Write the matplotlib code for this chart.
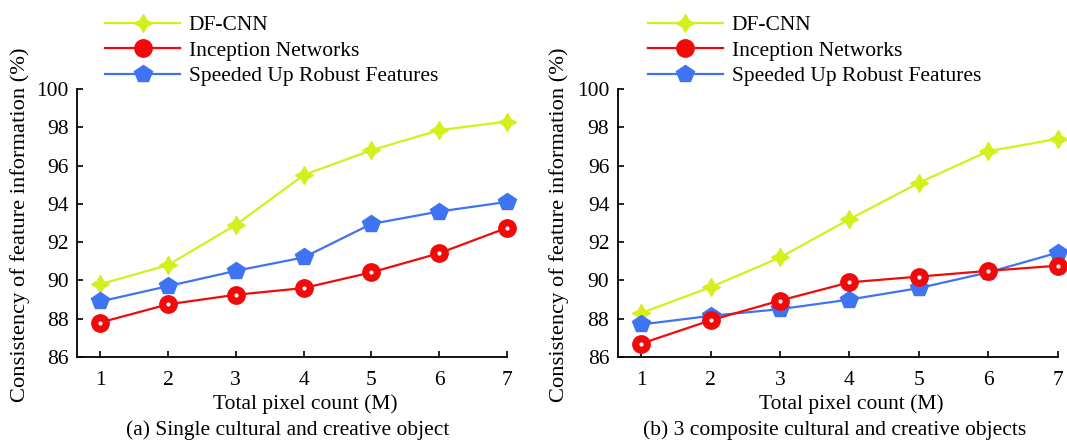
import matplotlib
matplotlib.use("Agg")
import matplotlib.pyplot as plt
from matplotlib.lines import Line2D

plt.rcParams['font.family'] = ['Liberation Serif', 'DejaVu Serif']
plt.rcParams['mathtext.fontset'] = 'stix'

x = [1, 2, 3, 4, 5, 6, 7]
series_names = ["DF-CNN", "Inception Networks", "Speeded Up Robust Features"]

# (a) Single cultural and creative object
a_dfcnn = [89.8, 90.8, 92.9, 95.5, 96.8, 97.85, 98.3]
a_incep = [87.8, 88.75, 89.25, 89.6, 90.42, 91.42, 92.75]
a_surf = [88.9, 89.7, 90.5, 91.2, 92.95, 93.6, 94.1]

# (b) 3 composite cultural and creative objects
b_dfcnn = [88.3, 89.65, 91.2, 93.2, 95.1, 96.75, 97.4]
b_incep = [86.7, 87.92, 88.95, 89.9, 90.2, 90.5, 90.77]
b_surf = [87.7, 88.15, 88.5, 89.0, 89.6, 90.42, 91.45]

captions = ["(a) Single cultural and creative object",
            "(b) 3 composite cultural and creative objects"]
yticks = [86, 88, 90, 92, 94, 96, 98, 100]
xlabel = "Total pixel count (M)"
ylabel = "Consistency of feature information (%)"

c_yel = "#d4ef1c"
c_red = "#f00a0a"
c_blue = "#3e73f2"

W, H = 1067, 441
fig = plt.figure(figsize=(W / 100, H / 100), dpi=100)
axes_pos = [[77 / W, 1 - 357 / H, (507 - 77) / W, (357 - 89) / H],
            [617.7 / W, 1 - 357 / H, (1057.7 - 617.7) / W, (357 - 89) / H]]
data = [(a_dfcnn, a_incep, a_surf), (b_dfcnn, b_incep, b_surf)]
fs = 15.5
cap_cx = [288, 835]
leg_anchor = [0.065, 0.068]

for i in range(2):
    ax = fig.add_axes(axes_pos[i])
    d, inc, s = data[i]
    ax.plot(x, d, color=c_yel, lw=1.6, marker=(4, 1, 0), ms=13, mfc=c_yel, mec=c_yel, clip_on=False, zorder=3)
    ax.plot(x, s, color=c_blue, lw=1.6, marker='p', ms=13, mfc=c_blue, mec=c_blue, clip_on=False, zorder=3)
    ax.plot(x, inc, color=c_red, lw=1.6, marker='o', ms=12.5, mfc=c_red, mec=c_red, clip_on=False, zorder=4)
    ax.plot(x, inc, ls='none', marker='o', ms=2, mfc='white', mec='white', clip_on=False, zorder=5)
    ax.set_xlim(0.66, 7)
    ax.set_ylim(86, 100)
    ax.set_yticks(yticks)
    ax.set_xticks(x)
    ax.spines['top'].set_visible(False)
    ax.spines['right'].set_visible(False)
    for sp in ['left', 'bottom']:
        ax.spines[sp].set_linewidth(1.3)
    ax.tick_params(direction='in', length=4, width=1.2, labelsize=fs)
    ax.tick_params(axis='x', pad=10)
    ax.tick_params(axis='y', pad=6)
    ax.set_xlabel(xlabel, fontsize=fs)
    ax.xaxis.set_label_coords(0.53, -0.14, transform=ax.transAxes)
    ax.xaxis.label.set_va('top')
    ax.set_ylabel(ylabel, fontsize=16.2)
    ax.yaxis.set_label_coords(-0.11, 0.495, transform=ax.transAxes)
    fig.text(cap_cx[i] / W, 1 - 430 / H, captions[i], ha='center', va='center', fontsize=fs)

    handles = [
        Line2D([], [], color=c_yel, lw=1.6, marker=(4, 1, 0), ms=13, mfc=c_yel, mec=c_yel),
        Line2D([], [], color=c_red, lw=1.6, marker='o', ms=12.5, mfc=c_red, mec=c_red),
        Line2D([], [], color=c_blue, lw=1.6, marker='p', ms=13, mfc=c_blue, mec=c_blue),
    ]
    leg = ax.legend(handles, series_names, loc='lower left', bbox_to_anchor=(leg_anchor[i], 1.01),
                    frameon=False, fontsize=fs, handlelength=3.5, handletextpad=0.4,
                    labelspacing=0.25, borderaxespad=0, borderpad=0)

fig.savefig("out.png", dpi=100)
